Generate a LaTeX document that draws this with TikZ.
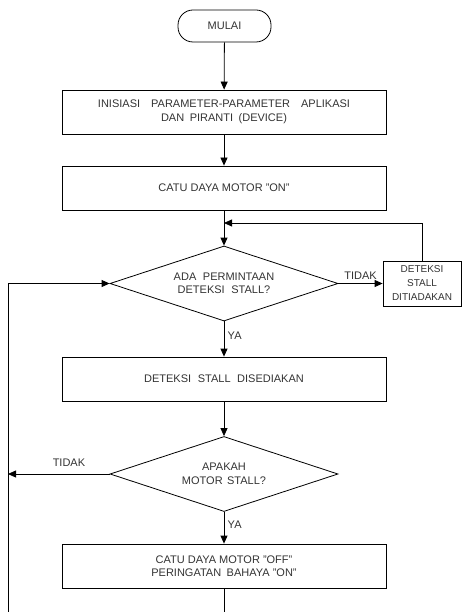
\documentclass[tikz,border=0pt]{standalone}
\usepackage{fontspec}
\setmainfont{Liberation Sans}
\usetikzlibrary{shapes.geometric,arrows.meta}
\begin{document}
\begin{tikzpicture}[x=1pt,y=-1pt,line width=0.8pt,
    font=\fontsize{11}{13.5}\selectfont,
    >={Triangle[length=8pt,width=7pt]},
    terminal/.style={draw,rectangle,rounded corners=15pt,minimum width=93pt,minimum height=32pt,text=black!80},
    process/.style={draw,rectangle,minimum width=324pt,minimum height=44pt,align=center,inner sep=0pt,text=black!80},
    smallbox/.style={draw,rectangle,minimum width=78pt,minimum height=45pt,align=center,inner sep=0pt,font=\fontsize{10}{14}\selectfont,text=black!80},
    decision/.style={draw,diamond,aspect=3,minimum width=228pt,minimum height=75pt,align=center,inner sep=0pt,text=black!80},
    label/.style={text=black!80}]
            \useasboundingbox (0,0) rectangle (461,612);

            \node[terminal] (mulai) at (224.5,26) {MULAI};
            \node[process] (inisiasi) at (224,112) {INISIASI\hspace{1em}PARAMETER-PARAMETER\hspace{1em}APLIKASI\\DAN\hspace{0.5em}PIRANTI\hspace{0.5em}(DEVICE)};
            \node[process] (catuon) at (224,188) {CATU DAYA MOTOR "ON"};
            \node[decision] (adaminta) at (224,283.5) {ADA\hspace{0.6em}PERMINTAAN\\DETEKSI\hspace{0.6em}STALL?};
            \node[smallbox] (ditiadakan) at (422,283.5) {DETEKSI\\STALL\\DITIADAKAN};
            \node[process] (disediakan) at (224,379) {DETEKSI\hspace{0.6em}STALL\hspace{0.6em}DISEDIAKAN};
            \node[decision] (apakah) at (224,474) {APAKAH\\MOTOR\hspace{0.4em}STALL?};
            \node[process] (catuoff) at (224,566) {CATU DAYA MOTOR "OFF"\\PERINGATAN\hspace{0.5em}BAHAYA "ON"};

            \coordinate (balik) at (224,223);
            \coordinate (kiritidak) at (8,474);
            \coordinate (kiribawah) at (8,612);
            \coordinate (bawah) at (224,612);

            \draw[->] (mulai) to (inisiasi);
            \draw[->] (inisiasi) to (catuon);
            \draw[->] (catuon) to (adaminta);
            \draw[->] (adaminta) to node[label,above] {TIDAK} (ditiadakan);
            \draw[->] (ditiadakan.north) |- (balik);
            \draw[->] (adaminta) to node[label,right,pos=0.4] {YA} (disediakan);
            \draw[->] (disediakan) to (apakah);
            \draw[->] (apakah) to node[label,above,pos=0.4,yshift=4pt] {TIDAK} (kiritidak);
            \draw[->] (apakah) to node[label,right,pos=0.4] {YA} (catuoff);
            \draw (catuoff) to (bawah);
            \draw[->] (kiribawah) |- (adaminta);
        \end{tikzpicture}
\end{document}
